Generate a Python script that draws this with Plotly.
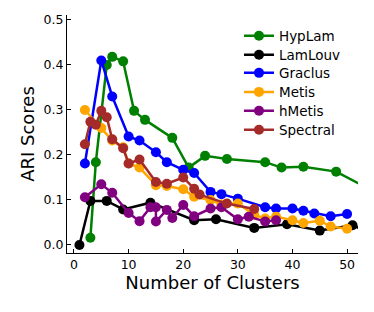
import plotly.graph_objects as go

hyplam_x = [3, 4, 6, 7, 9, 11, 13, 18, 21, 24, 28, 35, 38, 42, 48, 55]
hyplam_y = [0.016, 0.184, 0.40, 0.418, 0.408, 0.298, 0.278, 0.238, 0.172, 0.198, 0.191, 0.184, 0.172, 0.174, 0.163, 0.118]

lamlouv_x = [1, 3, 6, 9, 14, 22, 26, 33, 39, 45, 51, 55]
lamlouv_y = [0.0, 0.098, 0.098, 0.079, 0.094, 0.055, 0.057, 0.038, 0.046, 0.032, 0.044, 0.022]

graclus_x = [2, 5, 7, 10, 12, 15, 17, 20, 22, 25, 27, 30, 35, 37, 40, 42, 44, 47, 50]
graclus_y = [0.181, 0.41, 0.33, 0.241, 0.232, 0.206, 0.184, 0.167, 0.160, 0.118, 0.113, 0.103, 0.084, 0.081, 0.081, 0.076, 0.070, 0.064, 0.069]

metis_x = [2, 5, 7, 9, 10, 12, 15, 17, 20, 22, 25, 27, 30, 33, 35, 37, 40, 42, 45, 47, 50]
metis_y = [0.30, 0.26, 0.232, 0.217, 0.181, 0.172, 0.133, 0.131, 0.124, 0.107, 0.100, 0.090, 0.092, 0.067, 0.059, 0.063, 0.055, 0.049, 0.054, 0.041, 0.036]

hmetis_x = [2, 5, 7, 10, 12, 14, 15, 15, 17, 18, 20, 22, 25, 27, 30, 32, 35, 37]
hmetis_y = [0.106, 0.135, 0.116, 0.071, 0.053, 0.084, 0.084, 0.052, 0.078, 0.060, 0.089, 0.064, 0.081, 0.084, 0.057, 0.063, 0.052, 0.055]

spectral_x = [2, 3, 4, 5, 6, 7, 9, 10, 12, 15, 17, 20, 22, 23, 28, 33]
spectral_y = [0.224, 0.274, 0.267, 0.298, 0.284, 0.235, 0.215, 0.181, 0.19, 0.140, 0.136, 0.150, 0.125, 0.112, 0.092, 0.080]

series = [
    ("HypLam", hyplam_x, hyplam_y, "#008000"),
    ("LamLouv", lamlouv_x, lamlouv_y, "#000000"),
    ("Graclus", graclus_x, graclus_y, "#0000ff"),
    ("Metis", metis_x, metis_y, "#ffa500"),
    ("hMetis", hmetis_x, hmetis_y, "#800080"),
    ("Spectral", spectral_x, spectral_y, "#a52a2a"),
]

font = "DejaVu Sans, Liberation Sans, sans-serif"
legend_y = [0.912, 0.832, 0.756, 0.676, 0.597, 0.517]

fig = go.Figure()
layout_legends = {}
for i, (name, xs, ys, col) in enumerate(series):
    lname = "legend" if i == 0 else f"legend{i + 1}"
    fig.add_trace(go.Scatter(
        x=xs, y=ys, name=name, mode="lines+markers",
        line=dict(color=col, width=2.5),
        marker=dict(color=col, size=10),
        cliponaxis=True, legend=lname,
    ))
    layout_legends[lname] = dict(
        x=0.591, y=legend_y[i], xanchor="left", yanchor="middle",
        font=dict(size=13.5, family=font, color="black"),
        bgcolor="rgba(0,0,0,0)", borderwidth=0, itemwidth=30,
    )

fig.update_layout(
    width=366, height=304,
    margin=dict(l=59, r=16, t=7, b=59),
    paper_bgcolor="white", plot_bgcolor="white",
    font=dict(family=font, color="black", size=12),
    showlegend=True,
    xaxis=dict(
        range=[-1.28, 52.0], tickvals=[0, 10, 20, 30, 40, 50],
        showgrid=False, zeroline=False, showline=True, linecolor="black", linewidth=1,
        ticks="inside", ticklen=4, tickcolor="black", automargin=False,
        title=dict(text="Number of Clusters", font=dict(size=18), standoff=4),
        tickfont=dict(size=12.5),
    ),
    yaxis=dict(
        range=[-0.0178, 0.511], tickvals=[0, 0.1, 0.2, 0.3, 0.4, 0.5], tickformat=".1f",
        showgrid=False, zeroline=False, showline=True, linecolor="black", linewidth=1,
        ticks="inside", ticklen=4, tickcolor="black", automargin=False,
        title=dict(text="ARI Scores", font=dict(size=18), standoff=4),
        tickfont=dict(size=12.5),
    ),
    **layout_legends,
)

fig.write_html("out.html")
